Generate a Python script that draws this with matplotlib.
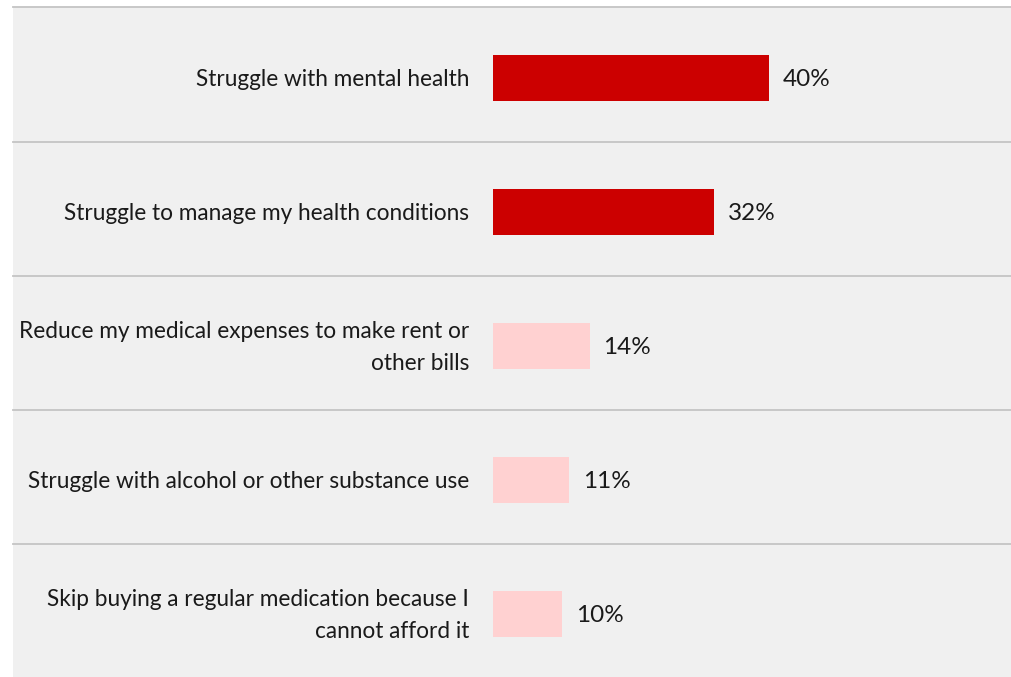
import matplotlib
matplotlib.use('agg')
import matplotlib.pyplot as plt

plt.rcParams['font.family'] = ['Lato', 'DejaVu Sans']

labels = [
    'Struggle with mental health',
    'Struggle to manage my health conditions',
    'Reduce my medical expenses to make rent or\nother bills',
    'Struggle with alcohol or other substance use',
    'Skip buying a regular medication because I\ncannot afford it',
]
values = [40, 32, 14, 11, 10]
bar_colors = ['#cc0000', '#cc0000', '#ffd1d1', '#ffd1d1', '#ffd1d1']

W, H = 1011, 677
fig = plt.figure(figsize=(W / 100, H / 100), dpi=100)
fig.patch.set_facecolor('white')

# gray panel: x 13..1011, y 7..677 (pixels from top)
left, top = 13, 7
ax = fig.add_axes([left / W, 0, (W - left) / W, (H - top) / H])
ax.set_facecolor('#f0f0f0')

px_per_unit = 6.9
xmin = -(493 - left) / px_per_unit
ax.set_xlim(xmin, xmin + (W - left) / px_per_unit)
ax.set_ylim(4.5, -0.5)

ypos = [i + 0.03 for i in range(len(values))]
ax.barh(ypos, values, height=0.35, color=bar_colors, linewidth=0)

for y, v, lab in zip(ypos, values, labels):
    ax.text(-24 / px_per_unit, y + 0.01, lab, ha='right', va='center',
            fontsize=16.3, color='#1a1a1a', linespacing=1.65)
    ax.annotate(f'{v}%', xy=(v, y + 0.01), xytext=(10, 0), textcoords='offset points',
                ha='left', va='center', fontsize=17.5, color='#1a1a1a')

# row separators (top one sits on the panel edge)
for b in [-0.5, 0.5, 1.5, 2.5, 3.5]:
    ax.axhline(b + (0 if b < 0 else 0.006), color='#c4c4c4', linewidth=1.3, clip_on=False)

for s in ax.spines.values():
    s.set_visible(False)
ax.set_xticks([])
ax.set_yticks([])

fig.savefig('out.png', dpi=100, facecolor=fig.get_facecolor())
plt.close(fig)
